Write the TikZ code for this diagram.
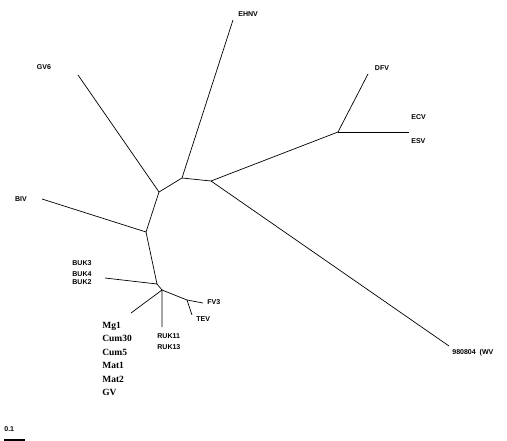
\documentclass[tikz,border=0pt]{standalone}
\usepackage{fontspec}
\setmainfont{Liberation Serif}
\setsansfont{Liberation Sans}
\usetikzlibrary{positioning}

\begin{document}
\begin{tikzpicture}
  [x=0.05cm,y=-0.05cm,line width=1pt,
   taxN/.style={font=\sffamily\bfseries\fontsize{10}{11}\selectfont,inner sep=0pt},
   grpN/.style={font=\rmfamily\bfseries\fontsize{13.5}{19.3}\selectfont,inner sep=0pt,align=left},
  ]
 \useasboundingbox (0,0) rectangle (507,441);

 % inner junctions
 \coordinate (a) at (159,192);
 \coordinate (g) at (182,178);
 \coordinate (h) at (211,181);
 \coordinate (f) at (338,132);
 \coordinate (b) at (146,232);
 \coordinate (c) at (157,284);
 \coordinate (d) at (162,290);
 \coordinate (e) at (187,300);

 % tips
 \coordinate (gv6) at (78,75);
 \coordinate (ehnv) at (233,20);
 \coordinate (dfv) at (368,74);
 \coordinate (ecv) at (409,132);
 \coordinate (wv) at (449,346);
 \coordinate (biv) at (42,199);
 \coordinate (buk) at (105,278);
 \coordinate (fv3) at (203,303);
 \coordinate (tev) at (192,315);
 \coordinate (mg) at (131,313);
 \coordinate (ruk) at (162,327);

 \draw (gv6) -- (a) -- (b) -- (biv);
 \draw (a) -- (g) -- (ehnv);
 \draw (g) -- (h) -- (f) -- (dfv);
 \draw (f) -- (ecv);
 \draw (h) -- (wv);
 \draw (b) -- (c) -- (buk);
 \draw (c) -- (d) -- (e) -- (fv3);
 \draw (e) -- (tev);
 \draw (mg) -- (d) -- (ruk);

 % labels
 \node[taxN,anchor=west] (lEHNV) at (238,14) {EHNV};
 \node[taxN] (lGV6) at (44,67) {GV6};
 \node[taxN] (lDFV) at (382,68) {DFV};
 \node[taxN,anchor=west] (lECV) at (411,117) {ECV};
 \node[taxN,anchor=west] (lESV) at (411,141) {ESV};
 \node[taxN] (lBIV) at (21,199) {BIV};
 \node[taxN,anchor=west] (lWV) at (452,353) {980804\ \ (WV};
 \node[taxN,anchor=west] (lBUK3) at (72,263) {BUK3};
 \node[taxN,anchor=west] (lBUK4) at (72,274) {BUK4};
 \node[taxN,anchor=west] (lBUK2) at (72,282) {BUK2};
 \node[taxN,anchor=west] (lFV3) at (207,302) {FV3};
 \node[taxN,anchor=west] (lTEV) at (196,319) {TEV};
 \node[taxN,anchor=west] (lRUK11) at (157,336) {RUK11};
 \node[taxN,anchor=west] (lRUK13) at (157,347) {RUK13};
 \node[grpN,anchor=west] (lMg) at (102,359) {Mg1\\Cum30\\Cum5\\Mat1\\Mat2\\GV};

 % scale
 \node[taxN,anchor=west] (lScale) at (4,429) {0.1};
 \coordinate (s0) at (4,440);
 \coordinate (s1) at (25,440);
 \draw[line width=1.5pt] (s0) -- (s1);
\end{tikzpicture}
\end{document}
